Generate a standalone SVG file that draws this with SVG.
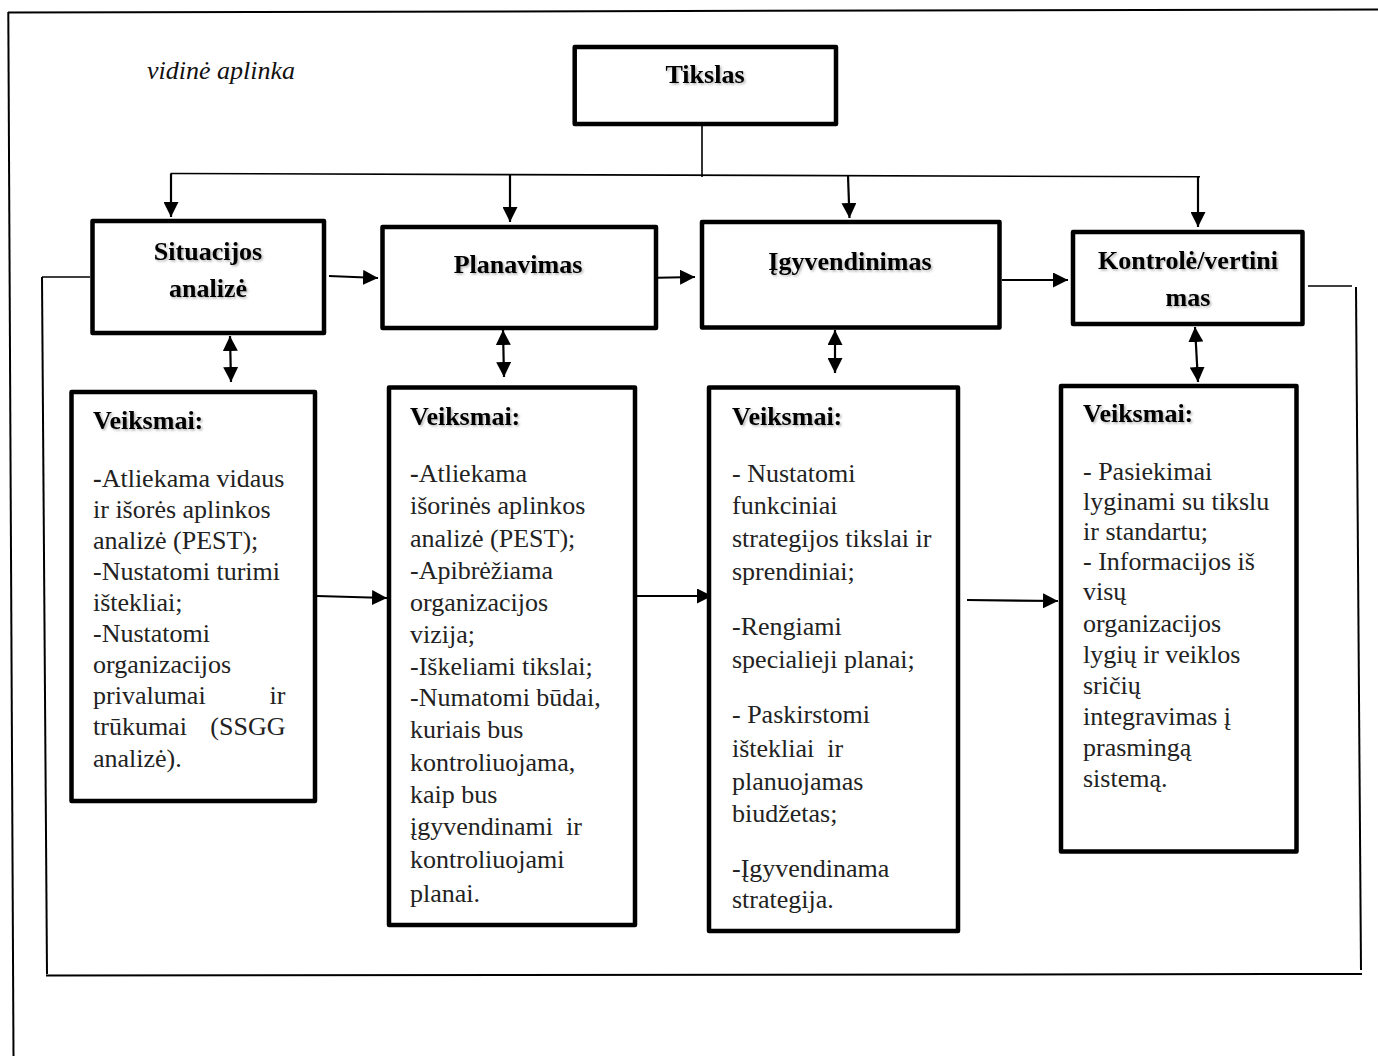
<svg xmlns="http://www.w3.org/2000/svg" width="1378" height="1056" viewBox="0 0 1378 1056">
<style>
  .box { fill: #fff; stroke: #000; stroke-width: 4.5; stroke-linejoin: round; }
  .hdr { font-family: "Liberation Serif", "Times New Roman", serif; font-size: 26px; font-weight: bold; fill: #000; text-anchor: middle; }
  .vk { font-family: "Liberation Serif", "Times New Roman", serif; font-size: 26px; font-weight: bold; fill: #000; }
  .body { font-family: "Liberation Serif", "Times New Roman", serif; font-size: 26px; fill: #222; }
  .ital { font-family: "Liberation Serif", "Times New Roman", serif; font-size: 26px; font-style: italic; fill: #111; }
  .ln { fill: none; stroke: #000; stroke-width: 2; }
  .thin { fill: none; stroke: #000; stroke-width: 1.6; }
  .arr { fill: none; stroke: #000; stroke-width: 2.2; marker-end: url(#ah); }
  .darr { fill: none; stroke: #000; stroke-width: 2.2; marker-end: url(#ah); marker-start: url(#ah); }
</style>
<defs>
  <marker id="ah" markerUnits="userSpaceOnUse" markerWidth="16" markerHeight="15" refX="15" refY="7.5" orient="auto-start-reverse">
    <path d="M0,0 L15,7.5 L0,15 z" fill="#000"/>
  </marker>
  <filter id="sh" x="-10%" y="-30%" width="130%" height="170%">
    <feDropShadow dx="1.5" dy="1.5" stdDeviation="1" flood-color="#000" flood-opacity="0.3"/>
  </filter>
</defs>
<rect width="1378" height="1056" fill="#fff"/>

<g id="frame">
  <line class="ln" x1="8" y1="12.5" x2="1378" y2="9.5"/>
  <line class="ln" x1="8.3" y1="12" x2="13.5" y2="1056"/>
  <line class="thin" x1="42" y1="277" x2="90" y2="277"/>
  <line class="ln" x1="42" y1="277" x2="47" y2="974"/>
  <line class="ln" x1="46" y1="975.5" x2="1362" y2="974"/>
  <line class="thin" x1="1308" y1="286" x2="1352" y2="286"/>
  <line class="ln" x1="1356" y1="287" x2="1361" y2="970"/>
</g>

<g id="label-vidine">
  <text class="ital" x="147" y="79">vidinė aplinka</text>
</g>

<g id="connectors">
  <line class="thin" x1="702" y1="117" x2="702" y2="177"/>
  <line class="thin" x1="170.7" y1="173.5" x2="1200" y2="176.8"/>
  <line class="arr" x1="171" y1="173.5" x2="171" y2="217"/>
  <line class="arr" x1="510" y1="174.5" x2="510" y2="222"/>
  <line class="arr" x1="848" y1="175.5" x2="849.5" y2="218"/>
  <line class="arr" x1="1198" y1="176.8" x2="1198" y2="227"/>
  <line class="arr" x1="329" y1="276" x2="378" y2="278"/>
  <line class="arr" x1="645" y1="278" x2="695" y2="277"/>
  <line class="arr" x1="1002" y1="280" x2="1068" y2="280"/>
  <line class="darr" x1="230" y1="336" x2="231" y2="382"/>
  <line class="darr" x1="503" y1="330" x2="504" y2="377"/>
  <line class="darr" x1="835" y1="330" x2="835" y2="373"/>
  <line class="darr" x1="1195" y1="327" x2="1198" y2="382"/>
  <line class="arr" x1="317" y1="596" x2="387" y2="598"/>
  <line class="arr" x1="637" y1="596" x2="712" y2="596"/>
  <line class="arr" x1="967" y1="600" x2="1058" y2="601"/>
</g>

<g id="n-tikslas">
  <rect class="box" x="574.7" y="47" width="261.3" height="77"/>
  <text class="hdr" x="705" y="83" filter="url(#sh)">Tikslas</text>
</g>

<g id="n-situacija">
  <rect class="box" x="92.5" y="221" width="231.5" height="112"/>
  <text class="hdr" x="208" y="260" filter="url(#sh)">Situacijos</text>
  <text class="hdr" x="208" y="297" filter="url(#sh)">analizė</text>
</g>

<g id="n-planavimas">
  <rect class="box" x="382.5" y="227" width="273.5" height="101"/>
  <text class="hdr" x="518" y="273" filter="url(#sh)">Planavimas</text>
</g>

<g id="n-igyvendinimas">
  <rect class="box" x="702" y="222" width="297.5" height="105.5"/>
  <text class="hdr" x="850" y="270" filter="url(#sh)">Įgyvendinimas</text>
</g>

<g id="n-kontrole">
  <rect class="box" x="1073" y="232" width="229.5" height="92"/>
  <text class="hdr" x="1188" y="269" filter="url(#sh)">Kontrolė/vertini</text>
  <text class="hdr" x="1188" y="306" filter="url(#sh)">mas</text>
</g>

<g id="n-veiksmai-1">
  <rect class="box" x="71.5" y="392" width="243.5" height="409"/>
  <text class="vk" x="93" y="429" filter="url(#sh)">Veiksmai:</text>
  <text class="body">
    <tspan x="93" y="487"><tspan font-weight="bold">-</tspan>Atliekama vidaus</tspan>
    <tspan x="93" y="518">ir išorės aplinkos</tspan>
    <tspan x="93" y="549">analizė (PEST);</tspan>
    <tspan x="93" y="580">-Nustatomi turimi</tspan>
    <tspan x="93" y="611">ištekliai;</tspan>
    <tspan x="93" y="642">-Nustatomi</tspan>
    <tspan x="93" y="673">organizacijos</tspan>
    <tspan x="93" y="704">privalumai</tspan>
    <tspan x="292" y="704" text-anchor="end">ir</tspan>
    <tspan x="93" y="735">trūkumai</tspan>
    <tspan x="292" y="735" text-anchor="end">(SSGG</tspan>
    <tspan x="93" y="767">analizė).</tspan>
  </text>
</g>

<g id="n-veiksmai-2">
  <rect class="box" x="389" y="387.5" width="246" height="537.5"/>
  <text class="vk" x="410" y="425" filter="url(#sh)">Veiksmai:</text>
  <text class="body">
    <tspan x="410" y="482"><tspan font-weight="bold">-</tspan>Atliekama</tspan>
    <tspan x="410" y="514">išorinės aplinkos</tspan>
    <tspan x="410" y="547">analizė (PEST);</tspan>
    <tspan x="410" y="579">-Apibrėžiama</tspan>
    <tspan x="410" y="611">organizacijos</tspan>
    <tspan x="410" y="643">vizija;</tspan>
    <tspan x="410" y="675">-Iškeliami tikslai;</tspan>
    <tspan x="410" y="706">-Numatomi būdai,</tspan>
    <tspan x="410" y="738">kuriais bus</tspan>
    <tspan x="410" y="771">kontroliuojama,</tspan>
    <tspan x="410" y="803">kaip bus</tspan>
    <tspan x="410" y="835">įgyvendinami&#160; ir</tspan>
    <tspan x="410" y="868">kontroliuojami</tspan>
    <tspan x="410" y="902">planai.</tspan>
  </text>
</g>

<g id="n-veiksmai-3">
  <rect class="box" x="709" y="387.5" width="249" height="543.5"/>
  <text class="vk" x="732" y="425" filter="url(#sh)">Veiksmai:</text>
  <text class="body">
    <tspan x="732" y="482">- Nustatomi</tspan>
    <tspan x="732" y="514">funkciniai</tspan>
    <tspan x="732" y="547">strategijos tikslai ir</tspan>
    <tspan x="732" y="580">sprendiniai;</tspan>
    <tspan x="732" y="635">-Rengiami</tspan>
    <tspan x="732" y="668">specialieji planai;</tspan>
    <tspan x="732" y="723">- Paskirstomi</tspan>
    <tspan x="732" y="757">ištekliai&#160; ir</tspan>
    <tspan x="732" y="790">planuojamas</tspan>
    <tspan x="732" y="822">biudžetas;</tspan>
    <tspan x="732" y="877">-Įgyvendinama</tspan>
    <tspan x="732" y="908">strategija.</tspan>
  </text>
</g>

<g id="n-veiksmai-4">
  <rect class="box" x="1061" y="386" width="235.5" height="465.5"/>
  <text class="vk" x="1083" y="422" filter="url(#sh)">Veiksmai:</text>
  <text class="body">
    <tspan x="1083" y="480">- Pasiekimai</tspan>
    <tspan x="1083" y="510">lyginami su tikslu</tspan>
    <tspan x="1083" y="540">ir standartu;</tspan>
    <tspan x="1083" y="570">- Informacijos iš</tspan>
    <tspan x="1083" y="600">visų</tspan>
    <tspan x="1083" y="632">organizacijos</tspan>
    <tspan x="1083" y="663">lygių ir veiklos</tspan>
    <tspan x="1083" y="694">sričių</tspan>
    <tspan x="1083" y="725">integravimas į</tspan>
    <tspan x="1083" y="756">prasmingą</tspan>
    <tspan x="1083" y="787">sistemą.</tspan>
  </text>
</g>
</svg>
